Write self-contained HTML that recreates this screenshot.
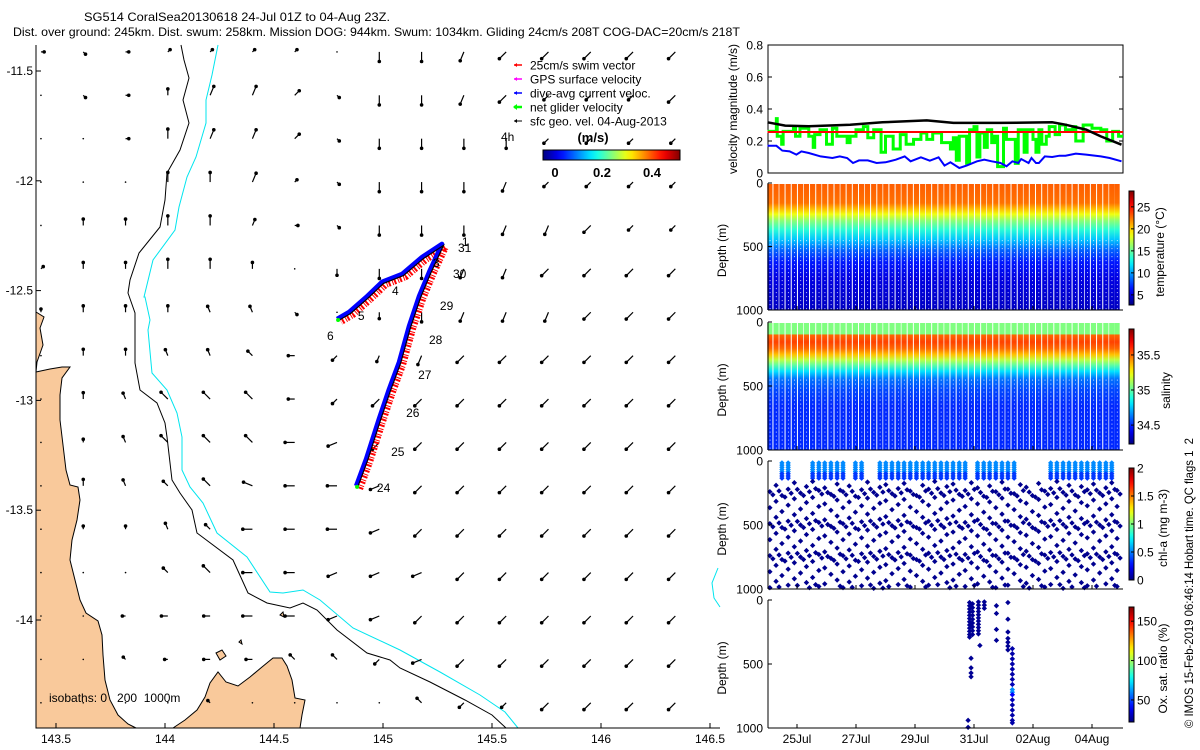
<!DOCTYPE html>
<html><head><meta charset="utf-8">
<style>
html,body{margin:0;padding:0;background:#fff;}
svg{display:block;font-family:"Liberation Sans",sans-serif;}
text{fill:#000;}
</style></head>
<body>
<svg id="fig" width="1200" height="750" viewBox="0 0 1200 750" xmlns="http://www.w3.org/2000/svg">
<defs id="defs"></defs>
<g id="title" font-size="12">
<text x="84" y="21" textLength="306" lengthAdjust="spacingAndGlyphs">SG514 CoralSea20130618 24-Jul 01Z to 04-Aug 23Z.</text>
<text x="13" y="36" textLength="727" lengthAdjust="spacingAndGlyphs">Dist. over ground: 245km. Dist. swum: 258km. Mission DOG: 944km. Swum: 1034km. Gliding 24cm/s 208T COG-DAC=20cm/s 218T</text>
</g>
<g id="map">
<g fill="#f9c99b" stroke="#000" stroke-width="1">
<path d="M36,312 L44,317 L40,328 L43,345 L37,362 L36,372 L50,369 L62,367 L70,367 L62,378 L60,395 L60,420 L63,445 L66,470 L70,485 L78,487 L80,500 L77,520 L72,540 L70,560 L75,580 L80,600 L86,613 L98,621 L102,635 L103,655 L105,680 L110,700 L118,715 L128,724 L136,728 L36,728 Z"/>
<path d="M173,728 L185,720 L197,710 L205,697 L210,683 L218,672 L226,682 L238,686 L250,677 L262,667 L273,658 L282,658 L287,666 L292,680 L295,698 L305,700 L302,715 L300,728 Z"/>
<path d="M216,653 L222,650 L226,656 L220,660 Z M280,615 L283,612 L284,617 Z M239,642 L241,640 L242,644 Z"/>
</g>
<g fill="none">
<path stroke="#000" stroke-width="1" d="M181,45 L184,60 L189,78 L183,100 L189,123 L180,150 L167,173 L165,200 L160,227 L139,253 L130,280 L128,293 L135,313 L135,363 L140,390 L157,403 L165,423 L167,437 L172,480 L180,493 L192,510 L197,533 L233,560 L248,593 L267,603 L290,608 L303,603 L317,610 L337,630 L367,653 L390,660 L400,668 L430,682 L465,700 L492,715 L506,728"/>
<path stroke="#00e5ee" stroke-width="1" d="M218,45 L212,75 L206,100 L206,123 L196,157 L187,177 L179,207 L175,230 L153,260 L144,297 L145,297 L150,320 L148,330 L152,373 L167,390 L177,413 L182,437 L182,470 L190,487 L203,503 L217,533 L247,557 L270,592 L283,593 L303,590 L320,600 L353,628 L400,650 L440,672 L480,695 L505,712 L518,728"/>
<path stroke="#00e5ee" stroke-width="1" d="M718,568 L712,583 L714,598 L720,607"/>
</g>
<g id="arrows"></g>
<g id="track"></g>
<g id="daylabels" font-size="12"></g>
<g stroke="#000" stroke-width="1">
<line x1="36" y1="45" x2="36" y2="728"/>
<line x1="36" y1="728" x2="720" y2="728"/>
</g>
<g id="mapticks" font-size="12"></g>
<text x="49" y="702" font-size="12" xml:space="preserve">isobaths: 0   200  1000m</text>
<g id="legend" font-size="12">
<g><line x1="514" y1="65" x2="522" y2="65" stroke="#f00" stroke-width="1.5"/><path d="M514,65 l3,-2 v4z" fill="#f00"/><text x="530" y="69.5">25cm/s swim vector</text></g>
<g><line x1="514" y1="79" x2="522" y2="79" stroke="#f0f" stroke-width="1.5"/><path d="M514,79 l3,-2 v4z" fill="#f0f"/><text x="530" y="83.5">GPS surface velocity</text></g>
<g><line x1="514" y1="93" x2="522" y2="93" stroke="#00f" stroke-width="1.5"/><path d="M514,93 l3,-2 v4z" fill="#00f"/><text x="530" y="97.5">dive-avg current veloc.</text></g>
<g><line x1="514" y1="107" x2="522" y2="107" stroke="#0f0" stroke-width="2.5"/><path d="M513,107 l4,-3 v6z" fill="#0f0"/><text x="530" y="111.5">net glider velocity</text></g>
<g><line x1="514" y1="121" x2="522" y2="121" stroke="#000" stroke-width="1"/><path d="M514,121 l3,-2 v4z" fill="#000"/><text x="530" y="125.5">sfc geo. vel. 04-Aug-2013</text></g>
<text x="501" y="141">4h</text>
<text x="593" y="142" text-anchor="middle" font-weight="bold" font-size="13">(m/s)</text>
<rect id="mapcbar" x="543" y="150" width="137" height="10" stroke="#000" stroke-width="1"/>
<g font-weight="bold" font-size="13" text-anchor="middle">
<text x="555" y="177">0</text><text x="602" y="177">0.2</text><text x="652" y="177">0.4</text>
</g>
</g>
</g>
<g id="right" font-size="12"></g>
<text transform="translate(1193,728) rotate(-90)" font-size="12" textLength="290" lengthAdjust="spacingAndGlyphs" xml:space="preserve">© IMOS 15-Feb-2019 06:46:14 Hobart time. QC flags 1  2</text>
</svg>
<script>
// ===== velocity magnitude data (days since 24-Jul 00Z) =====
const greenDays=[0.0,0.3,0.33,0.48,0.53,0.88,0.95,1.1,1.4,1.55,1.6,1.78,2.0,2.2,2.35,2.7,2.8,3.0,3.25,3.4,3.6,3.85,4.0,4.26,4.5,4.7,4.95,5.2,5.4,5.6,5.9,6.2,6.3,6.4,6.5,6.75,6.85,7.0,7.1,7.2,7.35,7.45,7.6,7.7,7.8,8.0,8.1,8.4,8.5,8.7,8.8,9.0,9.1,9.2,9.3,9.45,9.55,9.75,9.9,10.1,10.35,10.45,10.7,11.0,11.3,11.5,11.7,11.9,12.05];
const greenVals=[0.26,0.34,0.23,0.18,0.26,0.29,0.23,0.28,0.23,0.16,0.24,0.27,0.18,0.28,0.23,0.19,0.23,0.27,0.29,0.22,0.27,0.13,0.23,0.15,0.24,0.18,0.21,0.25,0.21,0.25,0.19,0.15,0.22,0.08,0.23,0.06,0.27,0.29,0.10,0.25,0.16,0.27,0.19,0.23,0.04,0.28,0.21,0.06,0.27,0.13,0.27,0.21,0.13,0.27,0.18,0.23,0.29,0.24,0.30,0.27,0.29,0.20,0.30,0.28,0.27,0.20,0.26,0.23,0.23];
const blueDays=[0,0.3,0.5,0.75,0.98,1.15,1.4,1.8,2.2,2.45,2.7,2.9,3.1,3.4,3.7,4.0,4.35,4.65,4.85,5.2,5.5,5.8,6.0,6.2,6.5,6.75,7.1,7.35,7.6,7.9,8.1,8.3,8.5,8.6,8.85,8.95,9.1,9.2,9.4,9.65,9.9,10.1,10.45,10.8,11.3,11.6,12.0];
const blueVals=[0.17,0.17,0.14,0.135,0.115,0.135,0.125,0.104,0.094,0.104,0.094,0.0625,0.079,0.079,0.0625,0.067,0.083,0.104,0.073,0.098,0.077,0.098,0.046,0.067,0.031,0.046,0.073,0.083,0.073,0.0625,0.042,0.073,0.0625,0.0875,0.0625,0.094,0.0625,0.0625,0.104,0.10,0.108,0.108,0.121,0.115,0.104,0.094,0.073];
const blackDays=[0,0.6,1.4,2.8,3.9,5.4,6.3,7.9,9.65,10.1,10.8,11.3,12.0];
const blackVals=[0.317,0.296,0.292,0.302,0.317,0.329,0.313,0.313,0.317,0.302,0.271,0.229,0.177];
const swimDays=[0,12.05];
const swimVals=[0.256,0.256];
const velTicks=[0,0.2,0.4,0.6,0.8];
const dateTicks=[1,3,5,7,9,11];
const dateLabels=["25Jul","27Jul","29Jul","31Jul","02Aug","04Aug"];
// ===== dive profiles =====
const diveDays=[0.08,0.29,0.49,0.70,0.91,1.12,1.32,1.53,1.74,1.94,2.15,2.36,2.56,2.77,2.98,3.19,3.39,3.60,3.81,4.01,4.22,4.43,4.63,4.84,5.05,5.26,5.46,5.67,5.88,6.08,6.29,6.50,6.70,6.91,7.12,7.33,7.53,7.74,7.95,8.15,8.36,8.57,8.77,8.98,9.19,9.40,9.60,9.81,10.02,10.22,10.43,10.64,10.84,11.05,11.26,11.47,11.67,11.85];
const tempDepths=[0,150,200,240,290,360,440,520,620,750,1000];
const tempVals=[23,22.5,20.5,18.5,16,13.5,11,8.5,6.5,5.2,4.4];
const tempTicks=[5,10,15,20,25];
const salDepths=[0,85,95,150,200,250,290,330,380,440,520,650,1000];
const salVals=[35.05,35.05,35.5,35.56,35.5,35.35,35.15,35.0,34.8,34.62,34.55,34.5,34.5];
const salTicks=[34.5,35,35.5];
const chlPhase=[90,40,120,70,20,100,50,10,80,60,110,30,90,45,125,75,15,95,55,35,105,65,25,85,120,40,70,10,100,50,30,110,80,20,60,125,45,90,15,70,105,35,55,120,25,85,65,10,95,40,115,50,75,30,100,60,20,80];
const chlTop=[0,0,1,1,0,0,0,1,1,1,1,1,1,0,1,1,0,0,1,1,1,1,1,1,1,1,1,1,1,1,1,1,1,0,1,1,1,1,1,1,1,0,0,0,0,0,1,1,1,1,1,1,1,1,1,1,1,0];
const chlTicks=[0,0.5,1,1.5,2];
const oxDays=[6.85,6.85,6.85,6.85,6.85,6.85,6.85,6.85,6.85,6.85,6.85,6.85,6.95,6.95,6.95,6.95,6.95,6.95,6.95,6.95,6.95,7.15,7.15,7.15,7.15,7.15,7.15,7.15,7.15,7.15,7.15,7.15,7.35,7.35,7.35,7.2,6.9,6.9,6.9,6.9,6.8,6.8,7.76,7.76,7.76,7.76,8.15,8.15,8.15,8.15,8.15,8.15,8.15,8.3,8.3,8.3,8.3,8.3,8.3,8.3,8.3,8.3,8.3,8.3,8.3,8.3,8.3,8.3,8.3,8.3];
const oxDepths=[20,45,70,95,120,145,170,195,220,245,270,290,30,60,90,120,150,180,210,240,270,15,40,65,90,115,140,165,190,215,240,265,15,40,65,355,455,530,570,600,940,995,45,105,230,315,20,150,250,300,330,360,390,380,420,460,500,540,580,620,660,700,720,740,780,820,860,900,940,960];
const oxVals=[25,25,25,25,25,25,25,25,25,25,25,25,25,25,25,25,25,25,25,25,25,25,25,25,25,25,25,25,25,25,25,25,25,25,25,25,25,25,25,25,25,25,25,25,25,25,25,25,25,25,25,25,25,28,28,28,28,28,28,28,30,60,60,40,30,28,28,28,28,28];
const oxTicks=[50,100,150];
// ===== map data =====
const trackLon=[144.881,144.927,144.986,145.032,145.078,145.124,145.170,145.216,145.275,145.183,145.092,145.000,144.927,144.849,144.794];
const trackLat=[-13.394,-13.271,-13.089,-12.953,-12.830,-12.666,-12.529,-12.420,-12.292,-12.352,-12.429,-12.465,-12.534,-12.602,-12.634];
const dayLabelText=["24","25","26","27","28","29","30","31","1","3","4","5","6"];
const dayLabelLon=[144.972,145.037,145.106,145.161,145.211,145.261,145.321,145.344,145.362,145.229,145.041,144.885,144.743];
const dayLabelLat=[-13.399,-13.235,-13.057,-12.884,-12.725,-12.570,-12.424,-12.306,-12.279,-12.374,-12.502,-12.616,-12.707];
const lonTicks=[143.5,144,144.5,145,145.5,146,146.5];
const latTicks=[-11.5,-12,-12.5,-13,-13.5,-14];
const geoRows=[
["E1","SE1","E1","NE1","NE1","NE1","NE1","o","S3","S3","SSW3","SW3","SW3","SW3","SW3","SW3"],
["o","SE1","E1","N2","NNE3","NNE3","NE2","SE1","S3","S3","SSW3","SW3","SW2","SW2","SW2","SW3"],
["o","o","E1","N3","NNE3","NNE3","NE2","SE1","S3","S3","S3","S3","SW2","SW2","SW2","SW2"],
["o","o","o","N3","N3","NNE3","NE1","SE1","S3","S3","S3","SSW3","SW2","SW2","SW2","SW2"],
["o","N2","N2","N3","N3","NNE2","E1","SE1","S3","S3","S3","SSW3","SSW3","SW3","SW2","SW2"],
["NE1","N2","N2","N3","N3","N2","o","S2","S3","S3","SSW3","SSW3","SW3","SW3","SW3","SW3"],
["N1","N2","N2","N2","NNW2","NNW2","SE1","o","S2","S3","SSW3","SSW3","SSW3","SW3","SW3","SW3"],
["o","N2","N2","NNW2","NNW2","NW2","W2","SW2","SSW2","SSW3","SW3","SW3","SW3","SW3","SW3","SW3"],
["o","N2","NNW2","NW3","NW3","NW3","W2","SW2","SW3","SW3","SW3","SW3","SW3","SW3","SW3","SW3"],
["o","N1","NNW2","NW3","NW3","NW3","W3","WSW3","SW3","SW3","SW3","SW3","SW3","SW3","SW3","SW3"],
["o","N2","NNW2","NW2","NW3","WNW3","W3","W3","WSW3","SW3","SW3","SW3","SW3","SW3","SW3","SW3"],
["o","N1","N1","NNW2","NW2","W3","W3","W3","WSW3","SW3","SW3","SW3","SW3","SW3","SW3","SW3"],
["o","o","o","NW2","NW3","W3","W3","WSW3","WSW3","WSW3","SW3","SW3","SW3","SW3","SW3","SW3"],
["o","o","W1","W2","W2","W3","W3","WSW3","WSW3","SW3","SW3","SW3","SW3","SW3","SW3","SW3"],
["o","o","NW1","W1","W2","W2","NW2","NW2","SW2","WSW3","SW3","SW3","SW3","SW3","SW3","SW3"],
["o","o","o","o","NW1","o","o","o","o","NW2","SW2","SW2","SW3","SW3","SW3","SW3"]];
const gridLon0=143.431, gridDLon=0.194, gridLat0=-11.413, gridDLat=0.1976;

// ===== helpers =====
const NS="http://www.w3.org/2000/svg";
function mk(tag,attrs,parent){const e=document.createElementNS(NS,tag);for(const k in attrs)e.setAttribute(k,attrs[k]);if(parent)parent.appendChild(e);return e;}
function cl(v){return Math.max(0,Math.min(1,v));}
function jet(t){t=cl(t);const r=cl(1.5-Math.abs(4*t-3)),g=cl(1.5-Math.abs(4*t-2)),b=cl(1.5-Math.abs(4*t-1));return "rgb("+Math.round(r*255)+","+Math.round(g*255)+","+Math.round(b*255)+")";}
const lonX=l=>56+(l-143.5)*218;
const latY=l=>71+(-11.5-l)*219.6;
const dayX=d=>767.5+d*29.5;
const X0=768,X1=1123;
const defs=document.getElementById('defs');
function vGrad(id,stops){const g=mk('linearGradient',{id:id,x1:0,y1:0,x2:0,y2:1},defs);stops.forEach(s=>mk('stop',{offset:s[0],'stop-color':s[1]},g));return g;}
(function(){const g=mk('linearGradient',{id:'jetH',x1:0,y1:0,x2:1,y2:0},defs);for(let i=0;i<=20;i++)mk('stop',{offset:i/20,'stop-color':jet(i/20)},g);})();
(function(){const g=mk('linearGradient',{id:'jetV',x1:0,y1:1,x2:0,y2:0},defs);for(let i=0;i<=20;i++)mk('stop',{offset:i/20,'stop-color':jet(i/20)},g);})();
document.getElementById('mapcbar').setAttribute('fill','url(#jetH)');

// ===== map arrows =====
const dirAng={N:0,NNE:22.5,NE:45,E:90,SE:135,SSW:202.5,S:180,SW:225,WSW:247.5,W:270,WNW:292.5,NW:315,NNW:337.5};
const arrowsG=document.getElementById('arrows');
geoRows.forEach((row,j)=>{row.forEach((c,i)=>{
  const x=lonX(gridLon0+i*gridDLon), y=latY(gridLat0-j*gridDLat);
  if(x>718)return;
  if(c==="o"){const d=mk('circle',{cx:x,cy:y,r:0.8,fill:'#000'},arrowsG);
    
    return;}
  const m=c.match(/([A-Z]+)(\d)/);const ang=dirAng[m[1]]*Math.PI/180;const mag=+m[2]*0.1;
  const L=mag*32;const dx=Math.sin(ang)*L, dy=-Math.cos(ang)*L;
  const g=mk('g',{},arrowsG);
  
  
  mk('line',{x1:x,y1:y,x2:x+dx,y2:y+dy,stroke:'#000','stroke-width':1.2},g);
  mk('circle',{cx:x+dx,cy:y+dy,r:1.8,fill:'#000'},g);
});});

// ===== track =====
const trackG=document.getElementById('track');
const tp=trackLon.map((l,i)=>[lonX(l),latY(trackLat[i])]);
const ptsStr=(dx,dy)=>tp.map(p=>(p[0]+dx).toFixed(1)+","+(p[1]+dy).toFixed(1)).join(" ");
const red=mk('polyline',{points:ptsStr(3,2),fill:'none',stroke:'#f00','stroke-width':6,'stroke-dasharray':'2,1,1,2','stroke-linejoin':'round'},trackG);


const blue=mk('polyline',{points:ptsStr(-1,-1),fill:'none',stroke:'#00f','stroke-width':4.5,'stroke-linejoin':'round'},trackG);


const blk=mk('polyline',{points:ptsStr(0.5,0.5),fill:'none',stroke:'#000','stroke-width':1.2},trackG);


[0,tp.length-1].forEach(k=>{const c=mk('circle',{cx:tp[k][0],cy:tp[k][1],r:2,fill:'#0f0'},trackG);
  
  });
const dl=document.getElementById('daylabels');
dayLabelText.forEach((t,i)=>{const e=mk('text',{x:lonX(dayLabelLon[i]),y:latY(dayLabelLat[i])+4},dl);e.textContent=t;
  
  });

// ===== map ticks =====
const mt=document.getElementById('mapticks');
lonTicks.forEach(l=>{const x=lonX(l);mk('line',{x1:x,y1:728,x2:x,y2:723,stroke:'#000'},mt);
  const e=mk('text',{x:x,y:743,'text-anchor':'middle'},mt);e.textContent=String(l);
  
  });
latTicks.forEach(l=>{const y=latY(l);mk('line',{x1:36,y1:y,x2:41,y2:y,stroke:'#000'},mt);
  const e=mk('text',{x:33,y:y+4,'text-anchor':'end'},mt);e.textContent=String(l);
  
  });

// ===== right panels =====
const R=document.getElementById('right');
function rotText(txt,x,y,name){const e=mk('text',{transform:`translate(${x},${y}) rotate(-90)`,'text-anchor':'middle'},R);e.textContent=txt;
  
  }
function yTickLabels(vals,yf,name,fmt){vals.forEach(v=>{const y=yf(v);mk('line',{x1:X0,y1:y,x2:X0+4,y2:y,stroke:'#000'},R);
  const e=mk('text',{x:763,y:y+4.5,'text-anchor':'end'},R);e.textContent=fmt?fmt(v):String(v);
  
  });}
function colorbar(top,bot,vmin,vmax,ticks,name,label,lx,fmt){
  const r=mk('rect',{x:1129,y:top,width:5,height:bot-top,fill:'url(#jetV)',stroke:'#000','stroke-width':1},R);
  
  
  ticks.forEach(v=>{const y=bot-(v-vmin)/(vmax-vmin)*(bot-top);mk('line',{x1:1134,y1:y,x2:1131,y2:y,stroke:'#000'},R);
    const e=mk('text',{x:1137,y:y+4.5},R);e.textContent=fmt?fmt(v):String(v);
    
    });
  rotText(label,lx,(top+bot)/2+4,name+'-label');
}
// velocity panel
const vT=45,vB=173,vy=v=>vB-v/0.8*(vB-vT);
const vbox=mk('rect',{x:X0,y:vT,width:X1-X0,height:vB-vT,fill:'none',stroke:'#000'},R);


velTicks.forEach(v=>mk('line',{x1:X1,y1:vy(v),x2:X1-4,y2:vy(v),stroke:'#000'},R));
yTickLabels(velTicks,vy,'velocity-tick-label',v=>v===0?"0":v.toFixed(1));
rotText('velocity magnitude (m/s)',737,109,'velocity-axis-title');
function stepPath(ds,vs){let s="";ds.forEach((d,i)=>{const x=dayX(d),y=vy(vs[i]);if(i===0)s+=`M${x},${y}`;else s+=`H${x}V${y}`;});return s;}
function linePath(ds,vs){return ds.map((d,i)=>(i?"L":"M")+dayX(d).toFixed(1)+","+vy(vs[i]).toFixed(1)).join("");}
const gl=mk('path',{d:stepPath(greenDays,greenVals),fill:'none',stroke:'#0f0','stroke-width':3},R);


const rl=mk('path',{d:linePath(swimDays,swimVals),fill:'none',stroke:'#f00','stroke-width':2},R);


const bk=mk('path',{d:linePath(blackDays,blackVals),fill:'none',stroke:'#000','stroke-width':2.5},R);


const bl=mk('path',{d:linePath(blueDays,blueVals),fill:'none',stroke:'#00f','stroke-width':2},R);



// depth panels
function depthAxes(top,bot,name){mk('line',{x1:X0,y1:top,x2:X0,y2:bot,stroke:'#000'},R);mk('line',{x1:X0,y1:bot,x2:X1,y2:bot,stroke:'#000'},R);
  const dy=d=>top+d/1000*(bot-top);
  yTickLabels([0,500,1000],dy,name+'-depth-tick');
  dateTicks.forEach(d=>mk('line',{x1:dayX(d),y1:bot,x2:dayX(d),y2:bot-4,stroke:'#000'},R));
  rotText('Depth (m)',726,(top+bot)/2+4,name+'-depth-title');return dy;}
function profilePanel(top,bot,gid,depths,vals,vmin,vmax,name){
  const st=depths.map((d,i)=>[d/1000,jet((vals[i]-vmin)/(vmax-vmin))]);vGrad(gid,st);
  diveDays.forEach(d=>{const x=dayX(d);if(x>X1-2)return;
    const r=mk('rect',{x:x-2.6,y:top+1,width:5.2,height:bot-top-1,fill:`url(#${gid})`},R);
    
    
    mk('line',{x1:x+0.2,y1:top+(bot-top)*0.45,x2:x+0.2,y2:bot,stroke:'#fff','stroke-width':0.8,'stroke-dasharray':'1,3'},R);
  });
}
const tT=183,tB=310;
profilePanel(tT,tB,'tgrad',tempDepths,tempVals,2.7,28.6,'temperature');
depthAxes(tT,tB,'temperature');
colorbar(191,305,2.7,28.6,tempTicks,'temperature-colorbar','temperature (°C)',1164);
const sT=322,sB=450;
profilePanel(sT,sB,'sgrad',salDepths,salVals,34.23,35.87,'salinity');
depthAxes(sT,sB,'salinity');
colorbar(329,444,34.23,35.87,salTicks,'salinity-colorbar','salinity',1170);
// chl
const cT=461,cB=589;
const cdy=d=>cT+d/1000*(cB-cT);
function diamond(x,y,col,name){const p=mk('path',{d:`M${x},${y-2.7}L${x+2.7},${y}L${x},${y+2.7}L${x-2.7},${y}Z`,fill:col},R);
  
  }
diveDays.forEach((d,k)=>{const x=dayX(d);if(x>X1-2)return;
  if(chlTop[k]){for(let z=15;z<=150;z+=17)diamond(x,cdy(z),z<100?jet(0.26):jet(0.18),'chl-sample');}
  for(let z=150+chlPhase[k];z<=995;z+=125)diamond(x,cdy(z),'#00008f','chl-sample');
  for(let z=210+chlPhase[k]*0.6;z<=995;z+=250)diamond(x+3,cdy(z),'#00008f','chl-sample');
});
depthAxes(cT,cB,'chl');
colorbar(468,580,0,2,chlTicks,'chl-colorbar','chl-a (mg m-3)',1167);
// oxygen
const oT=600,oB=728;
const ody=d=>oT+d/1000*(oB-oT);
oxDays.forEach((d,i)=>diamond(dayX(d),ody(oxDepths[i]),jet((oxVals[i]-22)/(168-22)),'oxygen-sample'));
depthAxes(oT,oB,'oxygen');
colorbar(607,722,22,168,oxTicks,'oxygen-colorbar','Ox. sat. ratio (%)',1167);
dateTicks.forEach((d,i)=>{const e=mk('text',{x:dayX(d),y:743,'text-anchor':'middle'},R);e.textContent=dateLabels[i];
  
  });
</script>
</body></html>
